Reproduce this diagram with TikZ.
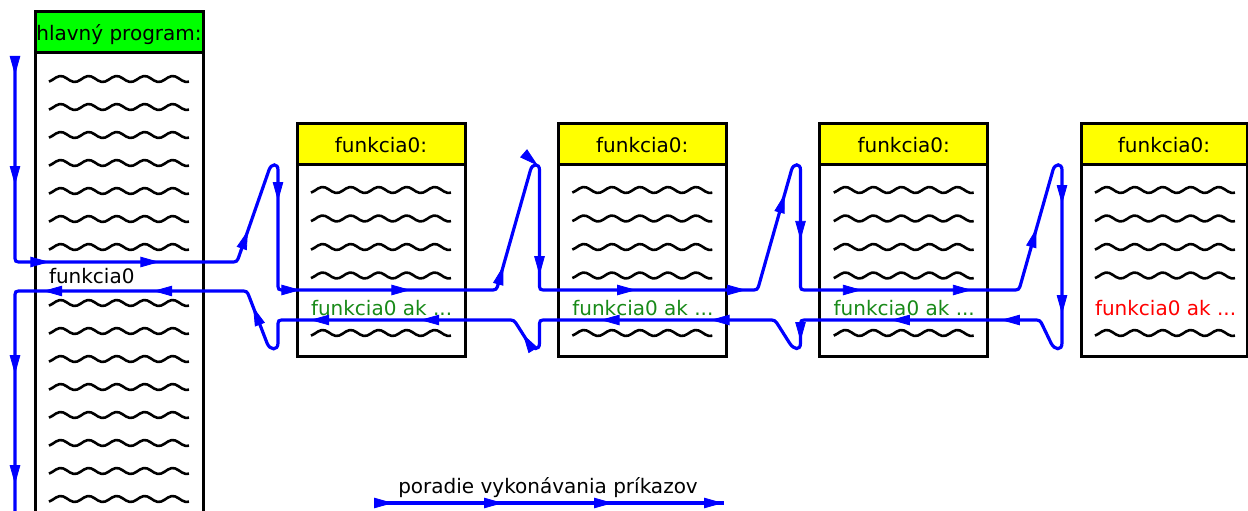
\documentclass[tikz,border=0pt]{standalone}
\usepackage{fontspec}
\setmainfont{DejaVu Sans}
\usetikzlibrary{arrows.meta,decorations.markings}
\definecolor{hdrgreen}{RGB}{0,255,0}
\definecolor{hdryellow}{RGB}{255,255,0}
\definecolor{flowblue}{RGB}{0,0,255}
\definecolor{okgreen}{RGB}{24,138,24}
\definecolor{stopred}{RGB}{255,0,0}
\begin{document}
\begin{tikzpicture}[x=1pt,y=-1pt,
  boxline/.style={draw=black,line width=3pt,inner sep=0pt,outer sep=0pt},
  hdrbox/.style={boxline,minimum height=41pt},
  bodybox/.style={boxline,fill=white},
  lbl/.style={inner sep=0pt,outer sep=0pt,font=\fontsize{20}{24}\selectfont},
  waveline/.style={draw=black,line width=2.6pt},
  flow/.style={draw=flowblue,line width=3.2pt,
    postaction={decorate},
    decoration={markings,mark=between positions 18pt and 1 step 110pt with {\arrow{Triangle[length=19pt,width=10.5pt,line width=0.8pt]}}}},
  pics/wavy/.style={code={\draw[waveline] plot[domain=0:140,samples=41,smooth] (\x,{-3*sin((\x-4.7)*12.857)});}}
]
\useasboundingbox (0,0) rectangle (1248,511);
\clip (0,0) rectangle (1248,511);

% main program
\node[bodybox,minimum width=168pt,minimum height=477pt] (mainbody) at (119,291.5) {};
\node[hdrbox,fill=hdrgreen,minimum width=168pt] (mainhdr) at (119,32.5) {};
\node[lbl,anchor=base] (mainttl) at (119,41) {hlavný program:};
\foreach \k in {0,...,6} \pic at (49,{79+28*\k}) {wavy};
\node[lbl,anchor=base west] (maincall) at (49,283) {funkcia0};
\foreach \k in {8,...,15} \pic at (49,{79+28*\k}) {wavy};

% function boxes
\foreach \i/\L/\W/\c in {1/297/168/okgreen,2/558.3/168/okgreen,3/819.7/168/okgreen,4/1081/166/stopred}{
  \pgfmathsetmacro\cx{\L+\W/2}
  \node[bodybox,minimum width=\W pt,minimum height=192pt] (body\i) at (\cx,260) {};
  \node[hdrbox,fill=hdryellow,minimum width=\W pt] (hdr\i) at (\cx,143.5) {};
  \node[lbl,anchor=base] (ttl\i) at (\cx,152) {funkcia0:};
  \foreach \y in {190,218.5,247,275.5,333} \pic at ({\L+14},\y) {wavy};
  \node[lbl,anchor=base west,text=\c] (call\i) at ({\L+14},315.5) {funkcia0 ak ...};
}

% execution order
\coordinate (start) at (15,57);
\coordinate (finish) at (15,530);
\path[flow] (start) -- (15,255) .. controls (15,262) .. (22,262)
  -- (230,262) .. controls (237,262) .. (239.3,255.4)
  -- (269,170) .. controls (271.3,163.4) and (278,163) .. (278,170)
  -- (278,283) .. controls (278,290) .. (285,290)
  -- (489.5,290) .. controls (496.5,290) .. (498.4,283.3)
  -- (530.5,170) .. controls (532.4,163.3) and (539.5,163) .. (539.5,170)
  -- (539.5,283) .. controls (539.5,290) .. (546.5,290)
  -- (750.5,290) .. controls (757.5,290) .. (759.4,283.3)
  -- (791.5,170) .. controls (793.4,163.3) and (800.5,163) .. (800.5,170)
  -- (800.5,283) .. controls (800.5,290) .. (807.5,290)
  -- (1012,290) .. controls (1019,290) .. (1020.9,283.3)
  -- (1053,170) .. controls (1054.9,163.3) and (1062,163) .. (1062,170)
  -- (1062,343) .. controls (1062,351) and (1054.4,350.2) .. (1051,343)
  -- (1043,326.3) .. controls (1040,320) .. (1033,320)
  -- (807.5,320) .. controls (800.5,320) .. (800.5,327)
  -- (800.5,343) .. controls (800.5,351) and (793.8,349.8) .. (789.5,343)
  -- (778.7,325.9) .. controls (775,320) .. (768,320)
  -- (546.5,320) .. controls (539.5,320) .. (539.5,327)
  -- (539.5,343) .. controls (539.5,351) and (532.8,349.8) .. (528.5,343)
  -- (517.7,325.9) .. controls (514,320) .. (507,320)
  -- (285,320) .. controls (278,320) .. (278,327)
  -- (278,343) .. controls (278,351) and (269.9,350.5) .. (267,343)
  -- (249.5,297.5) .. controls (247,291) .. (240,291)
  -- (22,291) .. controls (15,291) .. (15,298)
  -- (finish);

% legend
\coordinate (lgA) at (375,503);
\coordinate (lgB) at (723.5,503);
\path[flow] (lgA) -- (lgB);
\node[lbl,anchor=base] (lgtext) at (548,493) {poradie vykonávania príkazov};
\end{tikzpicture}
\end{document}
